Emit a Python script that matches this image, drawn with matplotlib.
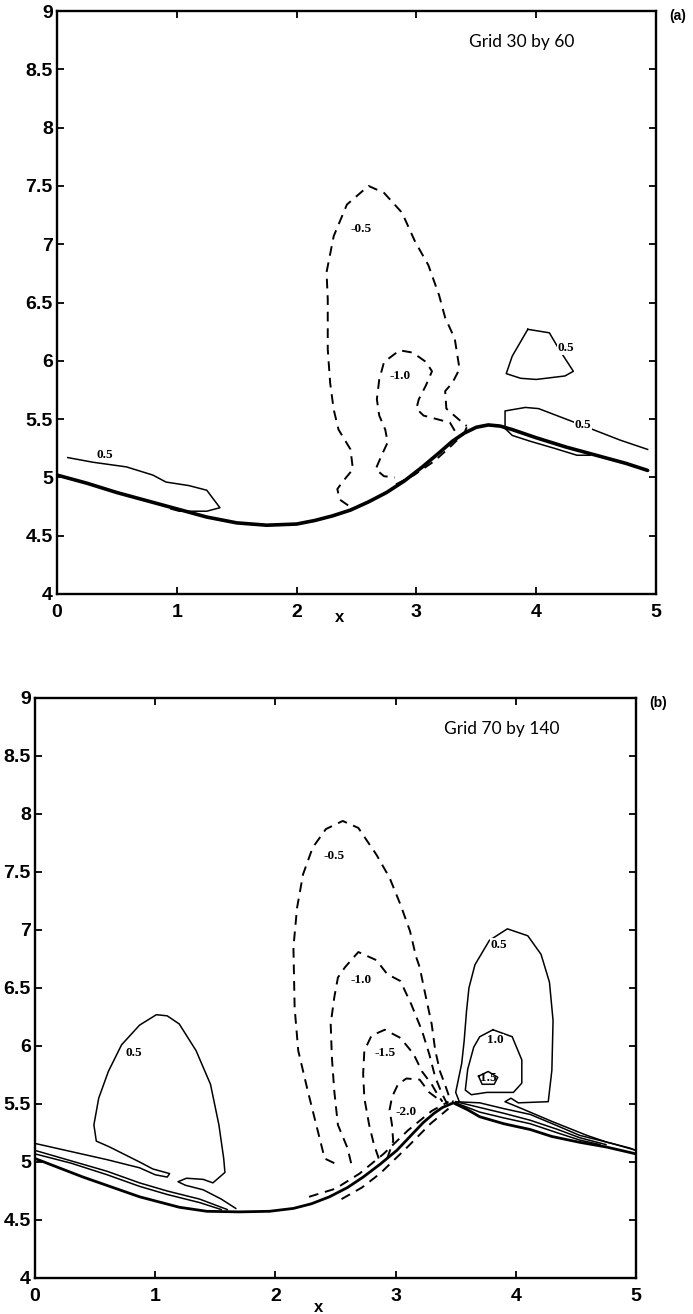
import numpy as np
import matplotlib.pyplot as plt

# ---------------- data ----------------
# panel (a): wall profile
wall_a_x = [0, 0.25, 0.5, 0.75, 1.0, 1.25, 1.5, 1.75, 2.0, 2.15, 2.3, 2.45, 2.6, 2.75, 2.9, 3.05, 3.2, 3.3,
            3.4, 3.5, 3.6, 3.7, 3.8, 4.0, 4.25, 4.5, 4.75, 4.93]
wall_a_y = [5.02, 4.95, 4.87, 4.80, 4.73, 4.66, 4.61, 4.59, 4.60, 4.63, 4.67, 4.72, 4.79, 4.87, 4.97, 5.09, 5.22, 5.31,
            5.38, 5.43, 5.45, 5.44, 5.41, 5.34, 5.26, 5.19, 5.12, 5.06]

# panel (a): solid contours (positive)
a_pos_left_x = [0.09, 0.3, 0.58, 0.8, 0.91, 1.1, 1.25, 1.36, 1.25, 1.02, 0.95]
a_pos_left_y = [5.17, 5.13, 5.09, 5.02, 4.96, 4.93, 4.89, 4.74, 4.71, 4.71, 4.73]
a_pos_strip_x = [3.74, 3.74, 3.91, 4.02, 4.3, 4.5, 4.7, 4.93]
a_pos_strip_y = [5.42, 5.57, 5.60, 5.59, 5.48, 5.40, 5.32, 5.24]
a_pos_lower_x = [3.74, 3.8, 3.95, 4.15, 4.34, 4.45]
a_pos_lower_y = [5.42, 5.36, 5.31, 5.25, 5.19, 5.19]
a_pos_island_x = [3.93, 4.11, 4.19, 4.31, 4.24, 4.0, 3.87, 3.75, 3.8, 3.93]
a_pos_island_y = [6.27, 6.24, 6.10, 5.91, 5.87, 5.84, 5.85, 5.89, 6.04, 6.27]

# panel (a): dashed contours (negative)
a_neg05_x = [2.43, 2.36, 2.34, 2.39, 2.47, 2.45, 2.35, 2.31, 2.28, 2.26, 2.26, 2.25, 2.31, 2.42, 2.6,
             2.73, 2.88, 2.99, 3.10, 3.19, 3.24, 3.32, 3.36, 3.3, 3.24, 3.25, 3.35, 3.42]
a_neg05_y = [4.76, 4.81, 4.90, 4.97, 5.07, 5.24, 5.41, 5.58, 5.81, 6.10, 6.53, 6.76, 7.07, 7.34, 7.5,
             7.44, 7.27, 7.02, 6.82, 6.56, 6.37, 6.19, 5.93, 5.81, 5.74, 5.59, 5.50, 5.44]
a_neg_wall_x = [3.42, 3.4, 3.29, 3.15, 2.98, 2.81]
a_neg_wall_y = [5.43, 5.38, 5.27, 5.14, 5.02, 4.93]
a_neg10_x = [3.32, 3.28, 3.06, 3.0, 3.02, 3.08, 3.13, 3.08, 2.97, 2.86, 2.73, 2.69, 2.67, 2.69, 2.74, 2.76, 2.71, 2.66, 2.73, 2.82]
a_neg10_y = [5.40, 5.47, 5.53, 5.59, 5.67, 5.79, 5.91, 5.99, 6.07, 6.09, 5.99, 5.84, 5.67, 5.53, 5.41, 5.30, 5.19, 5.07, 5.01, 5.0]

a_labels = ["-0.5", "-1.0", "0.5", "0.5", "0.5"]
a_label_x = [2.54, 2.86, 4.25, 4.39, 0.4]
a_label_y = [7.13, 5.87, 6.11, 5.45, 5.19]

# panel (b): wall profile
wall_b_x = [0, 0.4, 0.87, 1.2, 1.43, 1.7, 1.95, 2.15, 2.3, 2.45, 2.6, 2.73, 2.87, 3.01, 3.12, 3.23, 3.32, 3.39,
            3.48, 3.6, 3.7, 3.9, 4.12, 4.3, 4.53, 4.75, 5.0]
wall_b_y = [5.03, 4.87, 4.70, 4.61, 4.575, 4.57, 4.575, 4.60, 4.64, 4.70, 4.78, 4.87, 4.98, 5.10, 5.22, 5.34, 5.42, 5.47,
            5.51, 5.45, 5.39, 5.33, 5.28, 5.22, 5.17, 5.13, 5.07]

# panel (b): solid contours
b_pos_left_x = [0, 0.3, 0.6, 0.87, 1.0, 1.1, 1.12, 0.98, 0.87, 0.62, 0.51, 0.49, 0.53, 0.61, 0.72, 0.87, 1.01, 1.1,
                1.2, 1.34, 1.46, 1.53, 1.57, 1.58, 1.48, 1.4, 1.26, 1.19, 1.25, 1.4, 1.55, 1.67]
b_pos_left_y = [5.16, 5.09, 5.02, 4.95, 4.89, 4.87, 4.90, 4.94, 5.00, 5.13, 5.18, 5.32, 5.55, 5.78, 6.01, 6.18, 6.27, 6.26,
                6.19, 5.96, 5.67, 5.32, 5.03, 4.91, 4.82, 4.85, 4.86, 4.83, 4.80, 4.76, 4.68, 4.60]
b_s2a_x = [0, 0.3, 0.6, 0.87, 1.1, 1.37, 1.6]
b_s2a_y = [5.10, 5.01, 4.92, 4.82, 4.75, 4.68, 4.59]
b_s2b_x = [0, 0.3, 0.6, 0.87, 1.1, 1.37, 1.55]
b_s2b_y = [5.07, 4.99, 4.89, 4.79, 4.72, 4.65, 4.59]
b_pos_right_x = [3.53, 3.5, 3.52, 3.55, 3.57, 3.59, 3.61, 3.66, 3.78, 3.93, 4.1, 4.21, 4.28, 4.31, 4.3, 4.27,
                 4.02, 3.96, 3.91, 4.05, 4.3, 4.59, 4.76, 4.95, 5.0]
b_pos_right_y = [5.52, 5.60, 5.70, 5.85, 6.04, 6.30, 6.50, 6.70, 6.91, 7.01, 6.95, 6.79, 6.55, 6.22, 5.79, 5.52,
                 5.51, 5.55, 5.52, 5.46, 5.35, 5.23, 5.17, 5.12, 5.10]
b_pos10_x = [3.81, 3.7, 3.65, 3.6, 3.58, 3.63, 3.76, 3.98, 4.05, 4.05, 3.97, 3.81]
b_pos10_y = [6.14, 6.08, 5.99, 5.80, 5.62, 5.58, 5.60, 5.60, 5.68, 5.88, 6.08, 6.14]
b_pos15_x = [3.69, 3.77, 3.85, 3.82, 3.72, 3.69]
b_pos15_y = [5.74, 5.78, 5.73, 5.67, 5.67, 5.74]
b_r1_x = [3.5, 3.7, 3.9, 4.12, 4.35, 4.53, 4.8, 5.0]
b_r1_y = [5.52, 5.51, 5.46, 5.41, 5.31, 5.23, 5.16, 5.10]
b_r2_x = [3.5, 3.7, 3.9, 4.12, 4.35, 4.53, 4.75]
b_r2_y = [5.52, 5.47, 5.42, 5.36, 5.28, 5.21, 5.15]
b_r3_x = [3.5, 3.7, 3.9, 4.12, 4.35, 4.53, 4.7]
b_r3_y = [5.51, 5.43, 5.38, 5.33, 5.25, 5.19, 5.15]

# panel (b): dashed contours
b_neg05_x = [2.49, 2.41, 2.34, 2.27, 2.19, 2.16, 2.15, 2.18, 2.23, 2.31, 2.42, 2.56, 2.69, 2.84, 2.95, 3.04,
             3.12, 3.17, 3.2, 3.24, 3.3, 3.33, 3.37, 3.41, 3.45, 3.48]
b_neg05_y = [4.99, 5.03, 5.32, 5.61, 5.96, 6.33, 6.85, 7.19, 7.48, 7.71, 7.87, 7.94, 7.88, 7.65, 7.45, 7.22,
             6.99, 6.77, 6.68, 6.48, 6.19, 5.96, 5.78, 5.67, 5.55, 5.52]
b_neg10_x = [2.63, 2.6, 2.52, 2.49, 2.47, 2.46, 2.49, 2.52, 2.58, 2.69, 2.84, 2.93, 3.04, 3.13, 3.22, 3.28, 3.33, 3.39, 3.43]
b_neg10_y = [4.99, 5.12, 5.32, 5.61, 5.90, 6.19, 6.42, 6.59, 6.68, 6.81, 6.74, 6.62, 6.56, 6.36, 6.13, 5.93, 5.73, 5.58, 5.50]
b_neg15_x = [2.86, 2.82, 2.78, 2.74, 2.73, 2.74, 2.8, 2.91, 3.04, 3.15, 3.22, 3.3, 3.35, 3.39]
b_neg15_y = [5.03, 5.15, 5.32, 5.55, 5.76, 5.96, 6.09, 6.14, 6.07, 5.93, 5.78, 5.67, 5.58, 5.52]
b_neg20_x = [2.93, 2.98, 2.97, 2.95, 2.97, 3.02, 3.09, 3.2, 3.28, 3.37]
b_neg20_y = [5.03, 5.18, 5.32, 5.45, 5.56, 5.67, 5.72, 5.71, 5.60, 5.53]
b_nw1_x = [2.28, 2.5, 2.7, 2.9, 3.1, 3.3, 3.44]
b_nw1_y = [4.70, 4.77, 4.90, 5.07, 5.27, 5.44, 5.52]
b_nw2_x = [2.55, 2.72, 2.87, 3.09, 3.29, 3.44]
b_nw2_y = [4.68, 4.78, 4.90, 5.12, 5.33, 5.46]

b_labels = ["-0.5", "-1.0", "-1.5", "-2.0", "0.5", "0.5", "1.0", "1.5"]
b_label_x = [2.49, 2.71, 2.91, 3.09, 0.82, 3.86, 3.83, 3.77]
b_label_y = [7.64, 6.57, 5.94, 5.43, 5.94, 6.87, 6.05, 5.72]

ticks_x = [0, 1, 2, 3, 4, 5]
ticks_y = [4, 4.5, 5, 5.5, 6, 6.5, 7, 7.5, 8, 8.5, 9]
tick_labels_y = ['4', '4.5', '5', '5.5', '6', '6.5', '7', '7.5', '8', '8.5', '9']

# ---------------- drawing ----------------
W, H = 693, 1314
fig = plt.figure(figsize=(W / 100, H / 100), dpi=100)
fig.patch.set_facecolor('white')

dash = (0, (5, 3.5))
lw_c = 1.1


def setup(ax, grid_text, tag, xlab_y):
    ax.set_xlim(0, 5)
    ax.set_ylim(4, 9)
    ax.set_xticks(ticks_x)
    ax.set_yticks(ticks_y)
    ax.set_yticklabels(tick_labels_y)
    ax.tick_params(direction='in', length=5, width=1.3, top=True, right=True, pad=3,
                   labelsize=14)
    for lab in ax.get_xticklabels() + ax.get_yticklabels():
        lab.set_fontweight('bold')
        lab.set_family('Liberation Sans')
    ax.tick_params(axis='x', pad=7)
    for sp in ax.spines.values():
        sp.set_linewidth(1.7)
    ax.text(3.88, 8.73, grid_text, ha='center', va='center', fontsize=12.5, family='Lato')
    ax.text(1.022, 0.992, tag, transform=ax.transAxes, ha='left', va='center',
            fontsize=10, fontweight='bold', family='Liberation Sans')
    ax.text(2.36, xlab_y, 'x', transform=ax.get_xaxis_transform(), ha='center', va='center',
            fontsize=12, fontweight='bold', family='Liberation Sans')


def labels(ax, txt, xs, ys, nobox=()):
    for t, x, y in zip(txt, xs, ys):
        box = None if (x, y) in nobox else dict(facecolor='white', edgecolor='none', pad=0.5)
        ax.text(x, y, t, ha='center', va='center', fontsize=9.5, fontweight='bold',
                family='Liberation Serif', bbox=box)


# panel (a)
ax1 = fig.add_axes([57 / W, 1 - 594 / H, 599 / W, 583 / H])
setup(ax1, 'Grid 30 by 60', '(a)', -0.04)
ax1.plot(wall_a_x, wall_a_y, color='black', lw=2.6, solid_capstyle='round', solid_joinstyle='round')
for xs, ys in [(a_pos_left_x, a_pos_left_y), (a_pos_strip_x, a_pos_strip_y),
               (a_pos_lower_x, a_pos_lower_y), (a_pos_island_x, a_pos_island_y)]:
    ax1.plot(xs, ys, color='black', lw=lw_c)
for xs, ys in [(a_neg05_x, a_neg05_y), (a_neg_wall_x, a_neg_wall_y), (a_neg10_x, a_neg10_y)]:
    ax1.plot(xs, ys, color='black', lw=lw_c + 0.3, linestyle=dash)
labels(ax1, a_labels, a_label_x, a_label_y)

# panel (b)
ax2 = fig.add_axes([35 / W, 1 - 1278 / H, 601 / W, 580 / H])
setup(ax2, 'Grid 70 by 140', '(b)', -0.05)
ax2.plot(wall_b_x, wall_b_y, color='black', lw=2.0, solid_capstyle='round', solid_joinstyle='round')
for xs, ys in [(b_pos_left_x, b_pos_left_y), (b_s2a_x, b_s2a_y), (b_s2b_x, b_s2b_y),
               (b_pos_right_x, b_pos_right_y), (b_pos10_x, b_pos10_y), (b_pos15_x, b_pos15_y),
               (b_r1_x, b_r1_y), (b_r2_x, b_r2_y), (b_r3_x, b_r3_y)]:
    ax2.plot(xs, ys, color='black', lw=lw_c)
for xs, ys in [(b_neg05_x, b_neg05_y), (b_neg10_x, b_neg10_y), (b_neg15_x, b_neg15_y),
               (b_neg20_x, b_neg20_y), (b_nw1_x, b_nw1_y), (b_nw2_x, b_nw2_y)]:
    ax2.plot(xs, ys, color='black', lw=lw_c + 0.3, linestyle=dash)
labels(ax2, b_labels, b_label_x, b_label_y, nobox=[(3.77, 5.72)])

fig.savefig('out.png', dpi=100, facecolor='white')
